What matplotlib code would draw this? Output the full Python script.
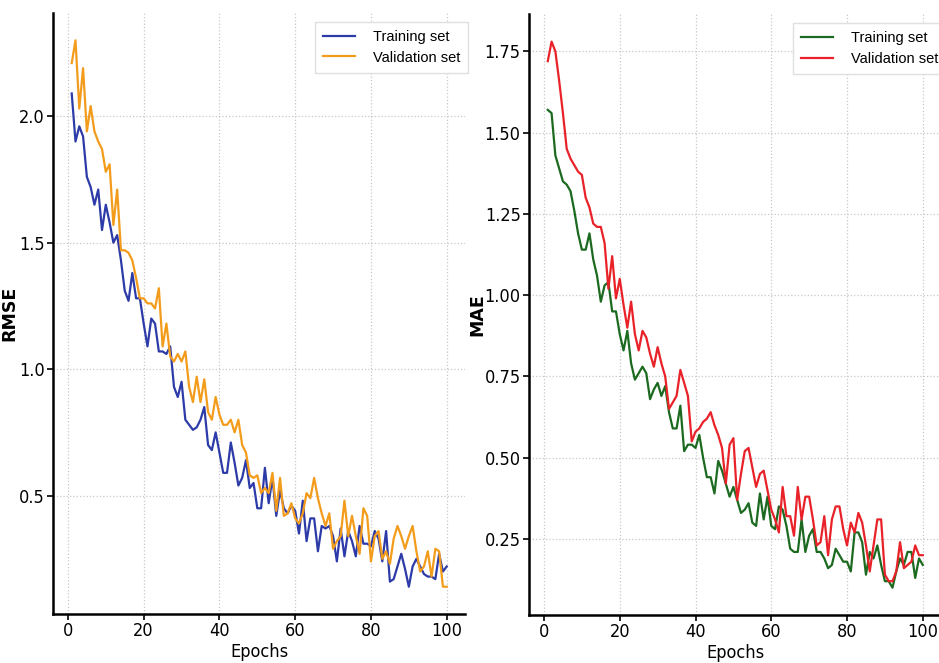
import matplotlib
matplotlib.use("Agg")
import matplotlib.pyplot as plt
from matplotlib import font_manager as fm

# epochs 1..100
epochs = list(range(1, 101))

rmse_train = [2.09, 1.90, 1.96, 1.92, 1.76, 1.72, 1.65, 1.71, 1.55, 1.65,
              1.58, 1.50, 1.53, 1.43, 1.31, 1.27, 1.38, 1.28, 1.28, 1.18,
              1.09, 1.20, 1.18, 1.07, 1.07, 1.06, 1.09, 0.93, 0.89, 0.95,
              0.80, 0.78, 0.76, 0.77, 0.80, 0.85, 0.70, 0.68, 0.75, 0.67,
              0.59, 0.59, 0.71, 0.63, 0.54, 0.57, 0.64, 0.53, 0.55, 0.45,
              0.45, 0.61, 0.47, 0.57, 0.42, 0.52, 0.45, 0.43, 0.46, 0.44,
              0.35, 0.48, 0.32, 0.41, 0.41, 0.28, 0.38, 0.37, 0.38, 0.34,
              0.24, 0.37, 0.26, 0.36, 0.32, 0.26, 0.38, 0.31, 0.31, 0.30,
              0.36, 0.33, 0.24, 0.36, 0.16, 0.17, 0.22, 0.27, 0.21, 0.14,
              0.22, 0.25, 0.22, 0.19, 0.18, 0.18, 0.17, 0.27, 0.20, 0.22]

rmse_val = [2.21, 2.30, 2.03, 2.19, 1.94, 2.04, 1.94, 1.90, 1.87, 1.78,
            1.81, 1.57, 1.71, 1.47, 1.47, 1.46, 1.43, 1.36, 1.28, 1.28,
            1.26, 1.26, 1.24, 1.32, 1.09, 1.18, 1.05, 1.03, 1.06, 1.03,
            1.07, 0.93, 0.87, 0.97, 0.87, 0.96, 0.83, 0.80, 0.89, 0.82,
            0.78, 0.78, 0.80, 0.75, 0.80, 0.70, 0.67, 0.58, 0.57, 0.58,
            0.51, 0.53, 0.51, 0.59, 0.44, 0.57, 0.42, 0.43, 0.47, 0.41,
            0.39, 0.43, 0.51, 0.49, 0.57, 0.49, 0.43, 0.38, 0.43, 0.29,
            0.32, 0.34, 0.48, 0.34, 0.42, 0.34, 0.27, 0.45, 0.42, 0.24,
            0.34, 0.36, 0.25, 0.28, 0.23, 0.33, 0.38, 0.34, 0.29, 0.34,
            0.38, 0.28, 0.20, 0.22, 0.28, 0.18, 0.29, 0.28, 0.14, 0.14]

mae_train = [1.57, 1.56, 1.43, 1.39, 1.35, 1.34, 1.32, 1.26, 1.19, 1.14,
             1.14, 1.19, 1.11, 1.06, 0.98, 1.03, 1.04, 0.95, 0.95, 0.88,
             0.83, 0.89, 0.79, 0.74, 0.76, 0.78, 0.76, 0.68, 0.71, 0.73,
             0.69, 0.72, 0.64, 0.59, 0.59, 0.66, 0.52, 0.54, 0.54, 0.53,
             0.57, 0.50, 0.44, 0.44, 0.39, 0.49, 0.46, 0.42, 0.38, 0.41,
             0.37, 0.33, 0.34, 0.36, 0.30, 0.29, 0.39, 0.31, 0.38, 0.29,
             0.28, 0.35, 0.34, 0.29, 0.22, 0.21, 0.21, 0.31, 0.21, 0.26,
             0.28, 0.21, 0.21, 0.19, 0.16, 0.17, 0.22, 0.20, 0.18, 0.18,
             0.15, 0.27, 0.27, 0.24, 0.14, 0.21, 0.19, 0.23, 0.17, 0.12,
             0.12, 0.10, 0.15, 0.19, 0.17, 0.21, 0.21, 0.13, 0.19, 0.17]

mae_val = [1.72, 1.78, 1.75, 1.66, 1.56, 1.45, 1.42, 1.40, 1.38, 1.37,
           1.30, 1.27, 1.22, 1.21, 1.21, 1.16, 1.02, 1.12, 0.99, 1.05,
           0.97, 0.90, 0.98, 0.88, 0.83, 0.89, 0.87, 0.82, 0.78, 0.84,
           0.79, 0.75, 0.65, 0.67, 0.69, 0.77, 0.73, 0.69, 0.55, 0.58,
           0.59, 0.61, 0.62, 0.64, 0.60, 0.57, 0.53, 0.42, 0.54, 0.56,
           0.37, 0.45, 0.52, 0.53, 0.47, 0.41, 0.45, 0.46, 0.40, 0.34,
           0.31, 0.27, 0.41, 0.32, 0.32, 0.26, 0.41, 0.31, 0.38, 0.38,
           0.31, 0.23, 0.24, 0.32, 0.20, 0.31, 0.35, 0.35, 0.28, 0.23,
           0.30, 0.27, 0.33, 0.30, 0.23, 0.15, 0.23, 0.31, 0.31, 0.14,
           0.12, 0.12, 0.15, 0.24, 0.16, 0.17, 0.18, 0.23, 0.20, 0.20]

# narrow face for ticks if there is one, else Liberation Sans
has_cond = any("DejaVuSansCondensed" in f.fname for f in fm.fontManager.ttflist)
if has_cond:
    tick_font = dict(family="DejaVu Sans", stretch="condensed", size=13)
else:
    tick_font = dict(family="Liberation Sans", size=12)

fig = plt.figure(figsize=(9.39, 6.63), dpi=100)
ax1 = fig.add_axes([0.0564, 0.0739, 0.4393, 0.9065])
ax2 = fig.add_axes([0.5634, 0.0724, 0.4393, 0.9060])

panels = [
    (ax1, rmse_train, rmse_val, "#2c3ba8", "#f39c1c", "RMSE", -0.085, 1.006),
    (ax2, mae_train, mae_val, "#1b6a1f", "#e82228", "MAE", -0.104, 1.011),
]
for ax, tr, va, c_tr, c_va, ylab, lx, lgx in panels:
    ax.plot(epochs, tr, color=c_tr, lw=1.6, label="Training set")
    ax.plot(epochs, va, color=c_va, lw=1.6, label="Validation set")
    ax.grid(True, ls=":", color="#c8c8c8", lw=0.9)
    ax.set_axisbelow(True)
    for s in ("top", "right"):
        ax.spines[s].set_visible(False)
    for s in ("left", "bottom"):
        ax.spines[s].set_linewidth(1.8)
    ax.tick_params(length=4, width=1.2, pad=2)
    ax.set_xticks([0, 20, 40, 60, 80, 100])
    ax.set_xlabel("Epochs", labelpad=2, **tick_font)
    ax.set_ylabel(ylab, family="DejaVu Sans", fontweight="bold", fontsize=12.5)
    ax.yaxis.set_label_coords(lx, 0.5)
    ax.legend(loc="upper right", bbox_to_anchor=(lgx, 0.985), borderaxespad=0,
              prop={"family": "Liberation Sans", "size": 10.5},
              handlelength=2.2, handletextpad=1.2, labelspacing=0.45, borderpad=0.55,
              fancybox=False, framealpha=1, edgecolor="#e0e0e0")

ax1.set_yticks([0.5, 1.0, 1.5, 2.0])
ax2.set_yticks([0.25, 0.5, 0.75, 1.0, 1.25, 1.5, 1.75])
for ax in (ax1, ax2):
    for lbl in ax.get_xticklabels() + ax.get_yticklabels():
        lbl.set_fontproperties(fm.FontProperties(**tick_font))

fig.savefig("out.png", dpi=100)
